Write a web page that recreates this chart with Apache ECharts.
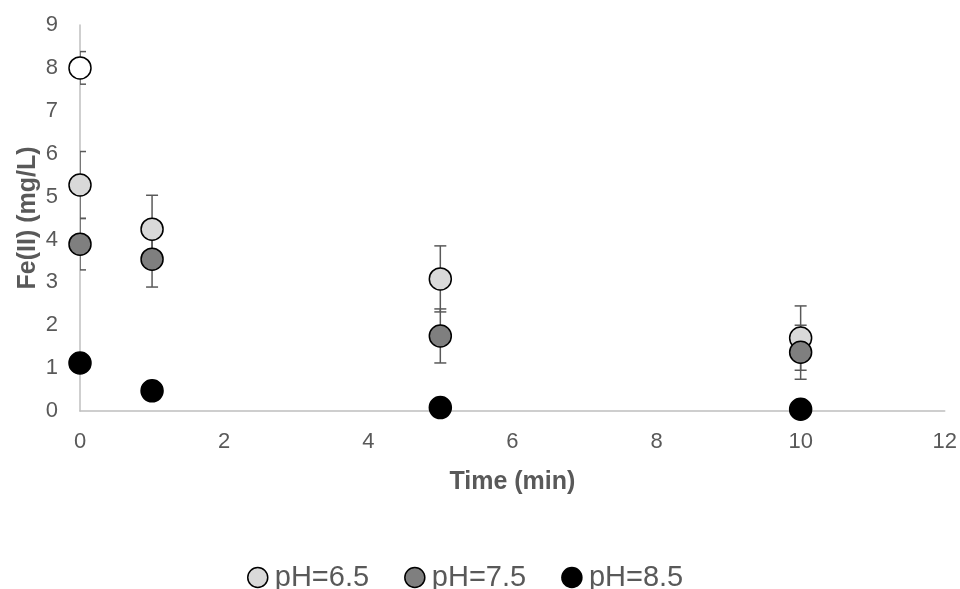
<!DOCTYPE html>
<html>
<head>
<meta charset="utf-8">
<script src="https://cdn.jsdelivr.net/npm/echarts@6/dist/echarts.min.js"></script>
<style>html,body{margin:0;padding:0;background:#fff}#c{width:960px;height:589px}</style>
</head>
<body>
<div id="c"></div>
<script>
var times = [0, 1, 5, 10];
var seriesNames = ['pH=6.5', 'pH=7.5', 'pH=8.5'];
var ph65 = [5.27, 4.24, 3.08, 1.70];
var ph65Err = [0.78, 0.79, 0.77, 0.75];
var ph75 = [3.89, 3.54, 1.75, 1.37];
var ph75Err = [0.6, 0.65, 0.63, 0.63];
var ph85 = [1.12, 0.47, 0.08, 0.04];
var ph85Err = [0.08, 0.22, 0.1, 0.1];
var initialTime = [0];
var initialValue = [8.0];
var initialErr = [0.38];
var xTicks = [0, 2, 4, 6, 8, 10, 12];
var yTicks = [0, 1, 2, 3, 4, 5, 6, 7, 8, 9];

var fills = ['#d9d9d9', '#7f7f7f', '#000000'];
var values = [ph65, ph75, ph85];
var errs = [ph65Err, ph75Err, ph85Err];

function errData(xs, ys, es) {
  return xs.map(function (x, i) { return [x, ys[i] - es[i], ys[i] + es[i]]; });
}
function errSeries(data) {
  return {
    type: 'custom',
    clip: true,
    z: 1,
    silent: true,
    renderItem: function (params, api) {
      var x = api.value(0);
      var lo = api.coord([x, api.value(1)]);
      var hi = api.coord([x, api.value(2)]);
      var hw = 6;
      var st = { stroke: '#595959', lineWidth: 1.5 };
      return {
        type: 'group',
        children: [
          { type: 'line', shape: { x1: lo[0], y1: lo[1], x2: hi[0], y2: hi[1] }, style: st },
          { type: 'line', shape: { x1: lo[0] - hw, y1: lo[1], x2: lo[0] + hw, y2: lo[1] }, style: st },
          { type: 'line', shape: { x1: hi[0] - hw, y1: hi[1], x2: hi[0] + hw, y2: hi[1] }, style: st }
        ]
      };
    },
    data: data
  };
}

var series = [];
for (var s = 0; s < 3; s++) {
  series.push(errSeries(errData(times, values[s], errs[s])));
}
series.push(errSeries(errData(initialTime, initialValue, initialErr)));
series.push({
  name: 'initial',
  type: 'scatter',
  symbol: 'circle',
  symbolSize: 22,
  clip: false,
  z: 3,
  itemStyle: { color: '#ffffff', borderColor: '#000', borderWidth: 1.5, opacity: 1 },
  data: initialTime.map(function (t, i) { return [t, initialValue[i]]; })
});
for (var k = 0; k < 3; k++) {
  series.push({
    name: seriesNames[k],
    type: 'scatter',
    symbol: 'circle',
    symbolSize: 22,
    clip: false,
    z: 3 + k,
    itemStyle: { color: fills[k], borderColor: '#000', borderWidth: 1.5, opacity: 1 },
    data: times.map(function (t, i) { return [t, values[k][i]]; })
  });
}

var chart = echarts.init(document.getElementById('c'));
chart.setOption({
  animation: false,
  backgroundColor: '#fff',
  textStyle: { fontFamily: 'Liberation Sans, Arial, sans-serif' },
  grid: { left: 80, right: 15, top: 25, bottom: 178, containLabel: false },
  legend: {
    data: seriesNames,
    top: 558,
    left: 242,
    icon: 'circle',
    itemWidth: 20,
    itemHeight: 20,
    itemGap: 35,
    textStyle: { fontSize: 29, color: '#595959', padding: [0, 0, 0, 2] },
    itemStyle: { borderColor: '#000', borderWidth: 1.5 }
  },
  xAxis: {
    type: 'value',
    min: xTicks[0],
    max: xTicks[xTicks.length - 1],
    interval: 2,
    name: 'Time (min)',
    nameLocation: 'middle',
    nameGap: 59,
    nameMoveOverlap: false,
    nameTextStyle: { fontSize: 25, fontWeight: 'bold', color: '#595959' },
    axisLine: { show: true, lineStyle: { color: '#bfbfbf', width: 1.5 } },
    axisTick: { show: false },
    splitLine: { show: false },
    axisLabel: { fontSize: 22, color: '#595959', margin: 20 }
  },
  yAxis: {
    type: 'value',
    min: yTicks[0],
    max: yTicks[yTicks.length - 1],
    interval: 1,
    name: 'Fe(II) (mg/L)',
    nameLocation: 'middle',
    nameGap: 39,
    nameMoveOverlap: false,
    nameTextStyle: { fontSize: 25, fontWeight: 'bold', color: '#595959' },
    axisLine: { show: true, lineStyle: { color: '#bfbfbf', width: 1.5 } },
    axisTick: { show: false },
    splitLine: { show: false },
    axisLabel: { fontSize: 22, color: '#595959', margin: 22 }
  },
  series: series
});
</script>
</body>
</html>
